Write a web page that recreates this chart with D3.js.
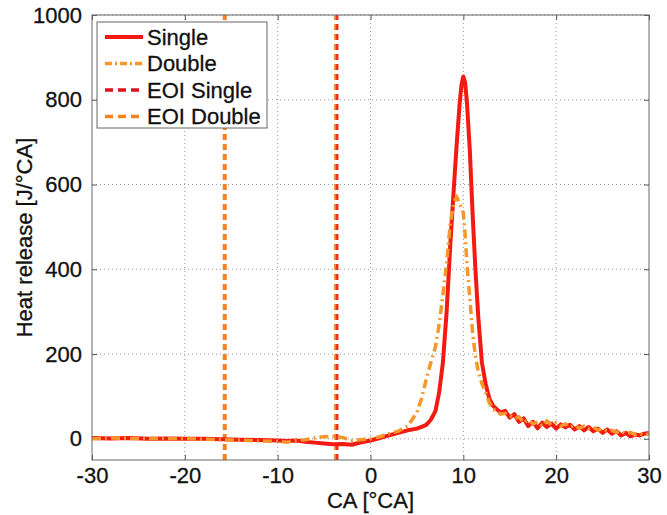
<!DOCTYPE html>
<html>
<head>
<meta charset="utf-8">
<script src="https://cdn.jsdelivr.net/npm/d3@7"></script>
<style>
  body { margin: 0; background: #fff; }
  text { font-family: "Liberation Sans", Arial, sans-serif; fill: #111; stroke: #111; stroke-width: 0.3px; }
</style>
</head>
<body>
<script>
// chart size
const width = 667;
const height = 515;
const margin = {top: 15, right: 15, bottom: 55, left: 92};

// crank angle samples [°CA]
const ca = [-30,-28,-26,-24,-22,-20,-18,-16,-14,-12,-10,-9,-8,-7,-6,-5,-4,-3,-2,-1,0,1,2,3,4,5,
  5.5,6,6.5,7,7.4,7.8,8.2,8.6,9,9.3,9.6,9.8,10,10.2,10.4,10.7,11,11.3,11.6,12,12.4,12.8,13.2,13.6,14,
  14.5,15,15.5,16,16.5,17,17.5,18,18.5,19,19.5,20,20.5,21,21.5,22,22.5,23,23.5,24,24.5,25,25.5,26,
  26.5,27,27.5,28,28.5,29,29.5,30];

// heat release [J/°CA]
const single = [2,1,2,0,1,0,0,-1,-2,-3,-4,-5,-4,-7,-9,-11,-13,-12,-14,-8,-4,2,8,14,20,24,
  28,33,45,66,110,180,300,460,600,700,790,835,855,840,790,680,530,400,290,180,130,95,78,70,62,
  66,50,58,40,48,30,40,25,38,28,36,24,34,27,33,22,30,20,28,18,24,14,22,12,
  18,8,14,6,10,8,12,14];
const double = [0,2,1,1,0,1,-1,-2,-3,-5,-6,-8,-4,-2,2,5,6,3,-4,-2,0,5,12,18,30,62,
  95,140,180,217,270,340,415,510,560,570,555,545,533,480,410,330,250,195,160,130,110,85,70,65,58,
  60,55,48,52,38,45,35,40,30,42,33,38,30,35,28,32,25,30,24,28,20,24,18,20,
  15,18,12,15,10,12,8,12];

// end of injection [°CA]
const eoiSingle = [-3.7];
const eoiDouble = [-15.7, -3.7];

const xTicks = [-30,-20,-10,0,10,20,30];
const yTicks = [0,200,400,600,800,1000];

const x = d3.scaleLinear()
  .domain([-30, 30])
  .range([margin.left, width - margin.right - 3]);

const y = d3.scaleLinear()
  .domain([-50, 1000])
  .range([height - margin.bottom, margin.top]);

const svg = d3.select('body').append('svg')
  .attr('width', width)
  .attr('height', height);

// grid
svg.append('g')
  .selectAll('line')
  .data(xTicks.slice(1, -1))
  .join('line')
  .attr('x1', d => x(d)).attr('x2', d => x(d))
  .attr('y1', y.range()[0]).attr('y2', y.range()[1])
  .attr('stroke', '#999').attr('stroke-dasharray', '1,3');
svg.append('g')
  .selectAll('line')
  .data(yTicks)
  .join('line')
  .attr('y1', d => y(d)).attr('y2', d => y(d))
  .attr('x1', x.range()[0]).attr('x2', x.range()[1])
  .attr('stroke', '#999').attr('stroke-dasharray', '1,3');

// axes (ticks inside, like matlab)
const fmt = d => String(d);

const xAxis = g => g
  .attr('transform', `translate(0,${y.range()[0]})`)
  .call(d3.axisBottom(x).tickValues(xTicks).tickFormat(fmt).tickSizeInner(-5).tickSizeOuter(0).tickPadding(7))
  .call(g => g.select('.domain').remove())
  .call(g => g.selectAll('line').attr('stroke', '#555'))
  .call(g => g.selectAll('text').attr('font-size', '22px').attr('fill', '#111'));

const yAxis = g => g
  .attr('transform', `translate(${x.range()[0]},0)`)
  .call(d3.axisLeft(y).tickValues(yTicks).tickFormat(fmt).tickSizeInner(-5).tickSizeOuter(0).tickPadding(10))
  .call(g => g.select('.domain').remove())
  .call(g => g.selectAll('line').attr('stroke', '#555'))
  .call(g => g.selectAll('text').attr('font-size', '22px').attr('fill', '#111'));

svg.append('g').call(xAxis);
svg.append('g').call(yAxis);

// top / right ticks
svg.append('g')
  .attr('transform', `translate(0,${y.range()[1]})`)
  .call(d3.axisTop(x).tickValues(xTicks).tickSizeInner(-5).tickSizeOuter(0).tickFormat(''))
  .call(g => g.select('.domain').remove())
  .call(g => g.selectAll('line').attr('stroke', '#555'));
svg.append('g')
  .attr('transform', `translate(${x.range()[1]},0)`)
  .call(d3.axisRight(y).tickValues(yTicks).tickSizeInner(-5).tickSizeOuter(0).tickFormat(''))
  .call(g => g.select('.domain').remove())
  .call(g => g.selectAll('line').attr('stroke', '#555'));

// EOI vertical lines
svg.append('g')
  .selectAll('line')
  .data(eoiDouble)
  .join('line')
  .attr('x1', d => x(d)).attr('x2', d => x(d))
  .attr('y1', y.range()[0]).attr('y2', y.range()[1])
  .attr('stroke', '#f5821f').attr('stroke-width', 4).attr('stroke-dasharray', '6,4');
svg.append('g')
  .selectAll('line')
  .data(eoiSingle)
  .join('line')
  .attr('x1', d => x(d) + 1).attr('x2', d => x(d) + 1)
  .attr('y1', y.range()[0]).attr('y2', y.range()[1])
  .attr('stroke', '#e8331a').attr('stroke-width', 2.5).attr('stroke-dasharray', '6,4');

// curves
const line = d3.line()
  .x((d, i) => x(ca[i]))
  .y(d => y(d));

svg.append('path')
  .datum(single)
  .attr('fill', 'none')
  .attr('stroke', '#f21a12')
  .attr('stroke-width', 4)
  .attr('stroke-linejoin', 'round')
  .attr('d', line);

svg.append('path')
  .datum(double)
  .attr('fill', 'none')
  .attr('stroke', '#f7962a')
  .attr('stroke-width', 3.5)
  .attr('stroke-dasharray', '9,4,2,4')
  .attr('d', line);

// box
svg.append('rect')
  .attr('x', x.range()[0]).attr('y', y.range()[1])
  .attr('width', x.range()[1] - x.range()[0])
  .attr('height', y.range()[0] - y.range()[1])
  .attr('fill', 'none').attr('stroke', '#666');

// legend
const legendItems = [
  {name: 'Single', color: '#f21a12', dash: null, w: 4},
  {name: 'Double', color: '#f7962a', dash: '7,3,2,3', w: 3.5},
  {name: 'EOI Single', color: '#d9141f', dash: '8,5', w: 3.5},
  {name: 'EOI Double', color: '#f5821f', dash: '8,5', w: 3.5}
];
const legend = svg.append('g').attr('transform', 'translate(97,22)');
legend.append('rect')
  .attr('width', 170).attr('height', 106)
  .attr('fill', '#fff').attr('stroke', '#666');
const item = legend.selectAll('g')
  .data(legendItems)
  .join('g')
  .attr('transform', (d, i) => `translate(0,${15 + i * 26.5})`);
item.append('line')
  .attr('x1', 8).attr('x2', 46)
  .attr('stroke', d => d.color)
  .attr('stroke-width', d => d.w)
  .attr('stroke-dasharray', d => d.dash);
item.append('text')
  .attr('x', 50).attr('dy', '0.35em')
  .attr('font-size', '22px')
  .text(d => d.name);

// axis titles
svg.append('text')
  .attr('x', (x.range()[0] + x.range()[1]) / 2)
  .attr('y', 508)
  .attr('text-anchor', 'middle')
  .attr('font-size', '22px')
  .text('CA [°CA]');
svg.append('text')
  .attr('transform', `translate(32,${(y.range()[0] + y.range()[1]) / 2}) rotate(-90)`)
  .attr('text-anchor', 'middle')
  .attr('font-size', '22px')
  .text('Heat release [J/°CA]');
</script>
</body>
</html>
